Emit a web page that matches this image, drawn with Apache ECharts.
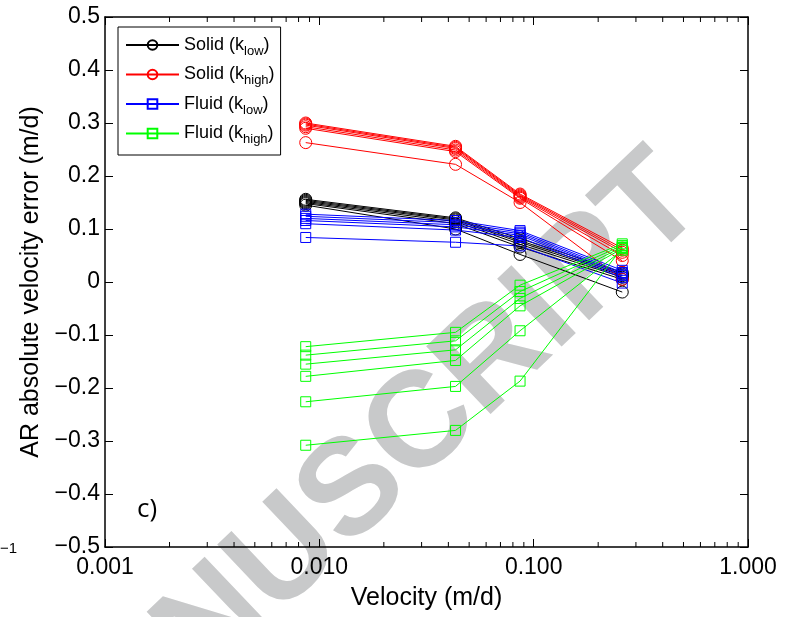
<!DOCTYPE html>
<html>
<head>
<meta charset="utf-8">
<script src="https://cdn.jsdelivr.net/npm/echarts@6/dist/echarts.min.js"></script>
<style>
  html, body { margin: 0; padding: 0; background: #fff; }
  #chart { width: 799px; height: 617px; }
</style>
</head>
<body>
<div id="chart"></div>
<script>
// Flow velocities (m/d) at which the AR error was evaluated
const velocities = [0.00864, 0.0432, 0.0864, 0.259];

// AR absolute velocity error (m/d), one row per run
const solidLow = [
  [0.156, 0.121, 0.082, 0.018],
  [0.154, 0.119, 0.078, 0.015],
  [0.152, 0.117, 0.075, 0.012],
  [0.150, 0.114, 0.071, 0.009],
  [0.148, 0.110, 0.066, 0.005],
  [0.145, 0.100, 0.052, -0.019]
];
const solidHigh = [
  [0.300, 0.256, 0.166, 0.064],
  [0.298, 0.254, 0.164, 0.060],
  [0.296, 0.252, 0.162, 0.056],
  [0.293, 0.249, 0.160, 0.050],
  [0.290, 0.246, 0.158, 0.040],
  [0.263, 0.222, 0.150, 0.005]
];
const fluidLow = [
  [0.128, 0.116, 0.097, 0.022],
  [0.124, 0.112, 0.094, 0.018],
  [0.120, 0.108, 0.091, 0.015],
  [0.116, 0.104, 0.088, 0.012],
  [0.110, 0.098, 0.084, 0.008],
  [0.084, 0.075, 0.068, -0.002]
];
const fluidHigh = [
  [-0.122, -0.095, -0.006, 0.072],
  [-0.138, -0.111, -0.018, 0.069],
  [-0.155, -0.128, -0.031, 0.066],
  [-0.178, -0.148, -0.045, 0.063],
  [-0.226, -0.197, -0.092, 0.060],
  [-0.308, -0.280, -0.187, 0.065]
];

// Axis ticks
const xMinorTicks = [0.002, 0.003, 0.004, 0.005, 0.006, 0.007, 0.008, 0.009,
                     0.02, 0.03, 0.04, 0.05, 0.06, 0.07, 0.08, 0.09,
                     0.2, 0.3, 0.4, 0.5, 0.6, 0.7, 0.8, 0.9];
const yTickLabels = ['−0.5', '−0.4', '−0.3', '−0.2', '−0.1', '0', '0.1', '0.2', '0.3', '0.4', '0.5'];

const groups = [
  { name: 'Solid (k_low)',  rows: solidLow,  color: '#000000', symbol: 'circle', size: 12 },
  { name: 'Solid (k_high)', rows: solidHigh, color: '#ff0000', symbol: 'circle', size: 12 },
  { name: 'Fluid (k_low)',  rows: fluidLow,  color: '#0000ff', symbol: 'rect',   size: 10 },
  { name: 'Fluid (k_high)', rows: fluidHigh, color: '#00ff00', symbol: 'rect',   size: 10 }
];

const FONT = '"Liberation Sans", Arial, sans-serif';

const series = [];
groups.forEach(g => {
  g.rows.forEach(row => {
    series.push({
      type: 'line',
      name: g.name,
      data: row.map((v, i) => [velocities[i], v]),
      symbol: g.symbol,
      symbolSize: g.size,
      showSymbol: true,
      lineStyle: { color: g.color, width: 1 },
      itemStyle: { color: 'rgba(0,0,0,0)', borderColor: g.color, borderWidth: 1 },
      emphasis: { disabled: true },
      z: 3
    });
  });
});

// Logarithmic minor ticks on the bottom and top frame
series.push({
  type: 'custom',
  name: 'minor',
  silent: true,
  z: 4,
  data: xMinorTicks.map(v => [v, 0]),
  renderItem: function (params, api) {
    const b = api.coord([api.value(0), -0.5]);
    const t = api.coord([api.value(0), 0.5]);
    const len = 5;
    return {
      type: 'group',
      children: [
        { type: 'line', shape: { x1: b[0], y1: b[1], x2: b[0], y2: b[1] - len }, style: { stroke: '#000', lineWidth: 1 } },
        { type: 'line', shape: { x1: t[0], y1: t[1], x2: t[0], y2: t[1] + len }, style: { stroke: '#000', lineWidth: 1 } }
      ]
    };
  }
});

function tickLabelY(v) {
  const i = Math.round((v + 0.5) * 10);
  return yTickLabels[i] !== undefined ? yTickLabels[i] : '';
}
function tickLabelX(v) {
  return Number(v).toFixed(3);
}

const axisLineStyle = { show: true, onZero: false, lineStyle: { color: '#000', width: 1.5 } };
const tickStyle = { show: true, inside: true, length: 8, lineStyle: { color: '#000' } };

const option = {
  animation: false,
  backgroundColor: '#ffffff',
  grid: { left: 105, top: 17, width: 643, height: 530, containLabel: false },
  xAxis: [
    {
      type: 'log', logBase: 10, min: 0.001, max: 1,
      position: 'bottom',
      name: 'Velocity (m/d)', nameLocation: 'middle', nameGap: 39,
      nameTextStyle: { fontFamily: FONT, fontSize: 25, color: '#000' },
      axisLine: axisLineStyle,
      axisTick: tickStyle,
      axisLabel: { fontFamily: FONT, fontSize: 23, color: '#000', margin: 9, formatter: tickLabelX },
      splitLine: { show: false }
    },
    {
      type: 'log', logBase: 10, min: 0.001, max: 1,
      position: 'top',
      axisLine: axisLineStyle,
      axisTick: tickStyle,
      axisLabel: { show: false },
      splitLine: { show: false }
    }
  ],
  yAxis: [
    {
      type: 'value', min: -0.5, max: 0.5, interval: 0.1,
      position: 'left',
      name: 'AR absolute velocity error (m/d)', nameLocation: 'middle', nameGap: 60,
      nameTextStyle: { fontFamily: FONT, fontSize: 25, color: '#000' },
      axisLine: axisLineStyle,
      axisTick: tickStyle,
      axisLabel: { fontFamily: FONT, fontSize: 23, color: '#000', margin: 5, formatter: tickLabelY },
      splitLine: { show: false }
    },
    {
      type: 'value', min: -0.5, max: 0.5, interval: 0.1,
      position: 'right',
      axisLine: axisLineStyle,
      axisTick: tickStyle,
      axisLabel: { show: false },
      splitLine: { show: false }
    }
  ],
  legend: {
    data: groups.map(g => g.name),
    orient: 'vertical',
    left: 118, top: 27,
    itemWidth: 53, itemHeight: 12, itemGap: 8,
    padding: [9, 6, 9, 7],
    backgroundColor: '#fff',
    borderColor: '#000', borderWidth: 1,
    borderRadius: 0,
    selectedMode: false,
    formatter: function (name) {
      const m = name.match(/^(.*)k_(\w+)\)$/);
      return '{n|' + m[1] + 'k}{s|' + m[2] + '}{n|)}';
    },
    textStyle: {
      color: '#000',
      rich: {
        n: { fontFamily: FONT, fontSize: 18, lineHeight: 25, color: '#000' },
        s: { fontFamily: FONT, fontSize: 13, lineHeight: 13, verticalAlign: 'bottom', color: '#000' }
      }
    }
  },
  graphic: [
    {
      type: 'text', z: -10, silent: true,
      x: 354, y: 492, rotation: 0.76,
      style: {
        text: 'MANUSCRIPT',
        fontFamily: FONT, fontWeight: 'bold', fontSize: 136,
        fill: '#c8c9ca',
        align: 'center', verticalAlign: 'middle'
      }
    },
    {
      type: 'text', z: 10, silent: true,
      x: 147, y: 510,
      style: {
        text: 'c)',
        fontFamily: '"Open Sans", sans-serif', fontSize: 26,
        fill: '#000', align: 'center', verticalAlign: 'middle'
      }
    },
    {
      type: 'text', z: 10, silent: true,
      x: 0, y: 549,
      style: {
        text: '−1',
        fontFamily: FONT, fontSize: 15,
        fill: '#000', align: 'left', verticalAlign: 'middle'
      }
    }
  ],
  series: series
};

const chart = echarts.init(document.getElementById('chart'), null, { renderer: 'canvas' });
chart.setOption(option);
</script>
</body>
</html>
